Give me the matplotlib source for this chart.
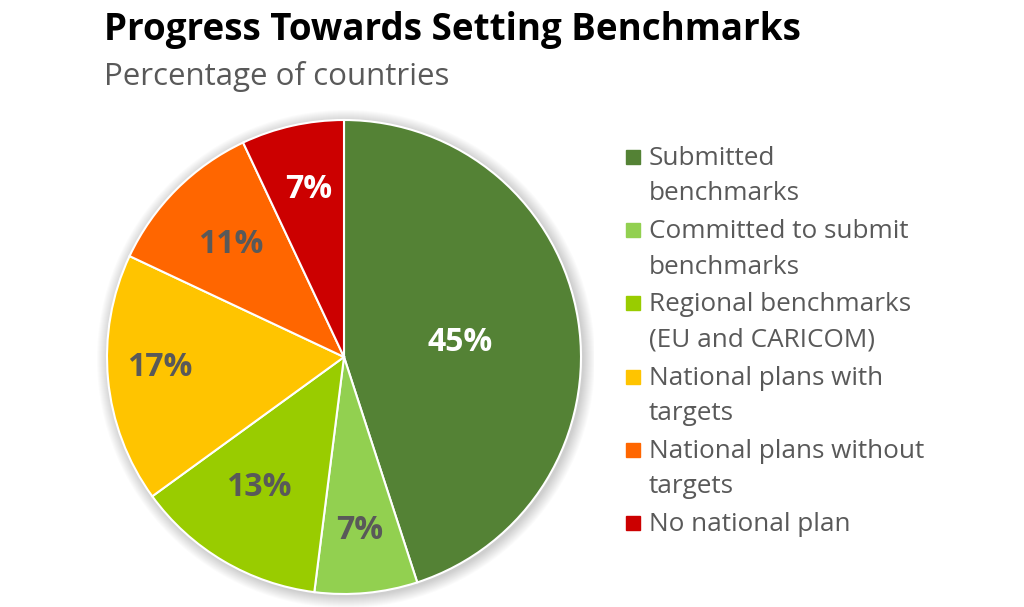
import numpy as np
import matplotlib.pyplot as plt
from matplotlib.patches import Circle, Rectangle

plt.rcParams["font.family"] = ["Open Sans", "DejaVu Sans"]

categories = [
    "Submitted\nbenchmarks",
    "Committed to submit\nbenchmarks",
    "Regional benchmarks\n(EU and CARICOM)",
    "National plans with\ntargets",
    "National plans without\ntargets",
    "No national plan",
]
values = [45, 7, 13, 17, 11, 7]
colors = ["#548235", "#92d050", "#99cc00", "#ffc400", "#ff6600", "#cc0000"]
label_colors = ["white", "#595959", "#595959", "#595959", "#595959", "white"]
# label placement: fraction of radius and angle nudge (degrees)
label_dist = [0.495, 0.72, 0.646, 0.777, 0.683, 0.74]
label_nudge = [0, 0, -3.4, -3.4, -0.8, -1.1]

W, H = 1024, 607
fig = plt.figure(figsize=(W / 100, H / 100), dpi=100)

# pie axes in pixel-like units, centred at (344, 357) from top-left
cx, cy, half = 344, 357, 250
ax = fig.add_axes([(cx - half) / W, (H - cy - half) / H, 2 * half / W, 2 * half / H])

R = 237
# soft shadow
for i in range(12):
    ax.add_patch(Circle((2, -2), R + 1 + i, color="black", alpha=0.014, lw=0, zorder=0))

wedges, _ = ax.pie(
    values,
    colors=colors,
    radius=R,
    startangle=90,
    counterclock=False,
    wedgeprops=dict(edgecolor="white", linewidth=1.5),
)
for w in wedges:
    w.set_zorder(2)

ax.set_xlim(-half, half)
ax.set_ylim(-half, half)
ax.set_aspect("equal")
ax.axis("off")

for w, v, c, d, n in zip(wedges, values, label_colors, label_dist, label_nudge):
    mid = np.deg2rad((w.theta1 + w.theta2) / 2 + n)
    ax.text(d * R * np.cos(mid), d * R * np.sin(mid), f"{v}%",
            ha="center", va="center_baseline", fontsize=23, fontweight="bold",
            color=c, zorder=3)

fig.text(104 / W, 1 - 30 / H, "Progress Towards Setting Benchmarks",
         fontsize=26.5, fontweight="bold", color="black", va="center", ha="left")
fig.text(104 / W, 1 - 76 / H, "Percentage of countries",
         fontsize=22.5, color="#595959", va="center", ha="left")

# legend
y0, step, line_h = 157, 73.2, 35.5
for i, (lab, col) in enumerate(zip(categories, colors)):
    y = y0 + i * step
    fig.patches.append(Rectangle((626 / W, 1 - (y + 7) / H), 14 / W, 14 / H,
                                 transform=fig.transFigure, color=col))
    for j, line in enumerate(lab.split("\n")):
        fig.text(649 / W, 1 - (y + 8 + j * line_h) / H, line, fontsize=18.8,
                 color="#595959", va="baseline", ha="left")

fig.savefig("out.png", dpi=100)
